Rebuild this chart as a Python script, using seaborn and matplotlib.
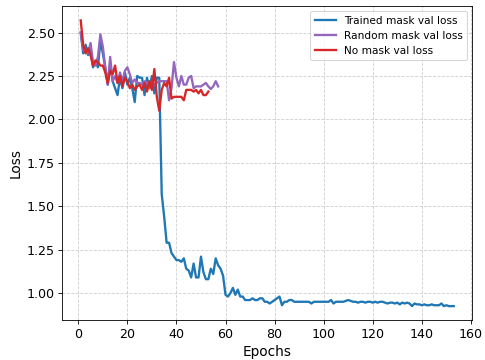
import pandas as pd
import matplotlib
matplotlib.use('Agg')
import matplotlib.pyplot as plt
import seaborn as sns

# perdas de validacao
trained = [2.50, 2.38, 2.43, 2.37, 2.40, 2.30, 2.33, 2.30, 2.45, 2.38,
           2.30, 2.20, 2.32, 2.22, 2.18, 2.14, 2.24, 2.18, 2.27, 2.20,
           2.24, 2.18, 2.10, 2.25, 2.24, 2.24, 2.14, 2.24, 2.18, 2.25,
           2.15, 2.24, 2.24,
           1.57, 1.44, 1.29, 1.29, 1.23, 1.21, 1.19, 1.19, 1.18, 1.20,
           1.14, 1.13, 1.09, 1.17, 1.09, 1.09, 1.21, 1.12, 1.08, 1.08,
           1.14, 1.11, 1.20, 1.16, 1.14, 1.10, 0.99,
           0.98, 1.00, 1.03, 0.99, 1.02, 0.98, 0.98, 0.96, 0.96, 0.96,
           0.97, 0.96, 0.96, 0.97, 0.97, 0.95, 0.95, 0.94, 0.95, 0.96,
           0.97, 0.98, 0.93, 0.95, 0.95, 0.96, 0.96, 0.95, 0.95, 0.95,
           0.95, 0.95, 0.95, 0.95, 0.94, 0.95, 0.95, 0.95, 0.95, 0.95,
           0.95, 0.95, 0.96, 0.94, 0.95, 0.95, 0.95, 0.95, 0.955, 0.96,
           0.955, 0.95, 0.95, 0.945, 0.95, 0.95, 0.945, 0.95, 0.95, 0.945,
           0.95, 0.945, 0.95, 0.95, 0.945, 0.94, 0.945, 0.945, 0.94, 0.945,
           0.935, 0.945, 0.94, 0.945, 0.94, 0.925, 0.94, 0.935, 0.935, 0.93,
           0.935, 0.93, 0.93, 0.935, 0.93, 0.93, 0.93, 0.94, 0.925, 0.93,
           0.925, 0.925, 0.925]

random_mask = [2.50, 2.40, 2.39, 2.38, 2.44, 2.33, 2.31, 2.36, 2.49, 2.42,
               2.30, 2.20, 2.36, 2.22, 2.25, 2.21, 2.27, 2.22, 2.28, 2.30,
               2.26, 2.21, 2.23, 2.21, 2.21, 2.20, 2.22, 2.21, 2.18, 2.20,
               2.20, 2.21, 2.22, 2.22, 2.22, 2.22, 2.11, 2.18, 2.33, 2.24,
               2.19, 2.25, 2.20, 2.20, 2.24, 2.25, 2.18, 2.19, 2.19, 2.19,
               2.20, 2.21, 2.19, 2.175, 2.19, 2.22, 2.19]

no_mask = [2.57, 2.43, 2.38, 2.41, 2.37, 2.31, 2.34, 2.33, 2.31, 2.31,
           2.27, 2.21, 2.28, 2.26, 2.31, 2.21, 2.25, 2.19, 2.24, 2.22,
           2.18, 2.20, 2.17, 2.19, 2.20, 2.17, 2.21, 2.16, 2.22, 2.17,
           2.29, 2.13, 2.05, 2.17, 2.21, 2.19, 2.24, 2.12, 2.13, 2.13,
           2.13, 2.13, 2.11, 2.17, 2.17, 2.17, 2.16, 2.17, 2.15, 2.17,
           2.14, 2.14, 2.16]

labels = ['Trained mask val loss', 'Random mask val loss', 'No mask val loss']
cores = ['tab:blue', 'tab:purple', 'tab:red']

partes = []
for nome, serie in zip(labels, [trained, random_mask, no_mask]):
    partes.append(pd.DataFrame({'epoch': range(1, len(serie) + 1),
                                'loss': serie, 'modelo': nome}))
df = pd.concat(partes, ignore_index=True)

dpi = 485 / 6.4
fig, ax = plt.subplots(figsize=(6.4, 360 / dpi), dpi=dpi)

sns.lineplot(data=df, x='epoch', y='loss', hue='modelo', hue_order=labels,
             palette=dict(zip(labels, cores)), linewidth=2.2, ax=ax)

ax.grid(True, linestyle='--', alpha=0.6)
ax.set_xlabel('Epochs', fontsize=13)
ax.set_ylabel('Loss', fontsize=13)
ax.tick_params(labelsize=12)
ax.legend(loc='upper right', fontsize=10)

# margem direita so o suficiente para o "160" caber
plt.subplots_adjust(left=0.128, right=0.974, top=0.983, bottom=0.110)
plt.savefig('out.png', dpi=dpi)
